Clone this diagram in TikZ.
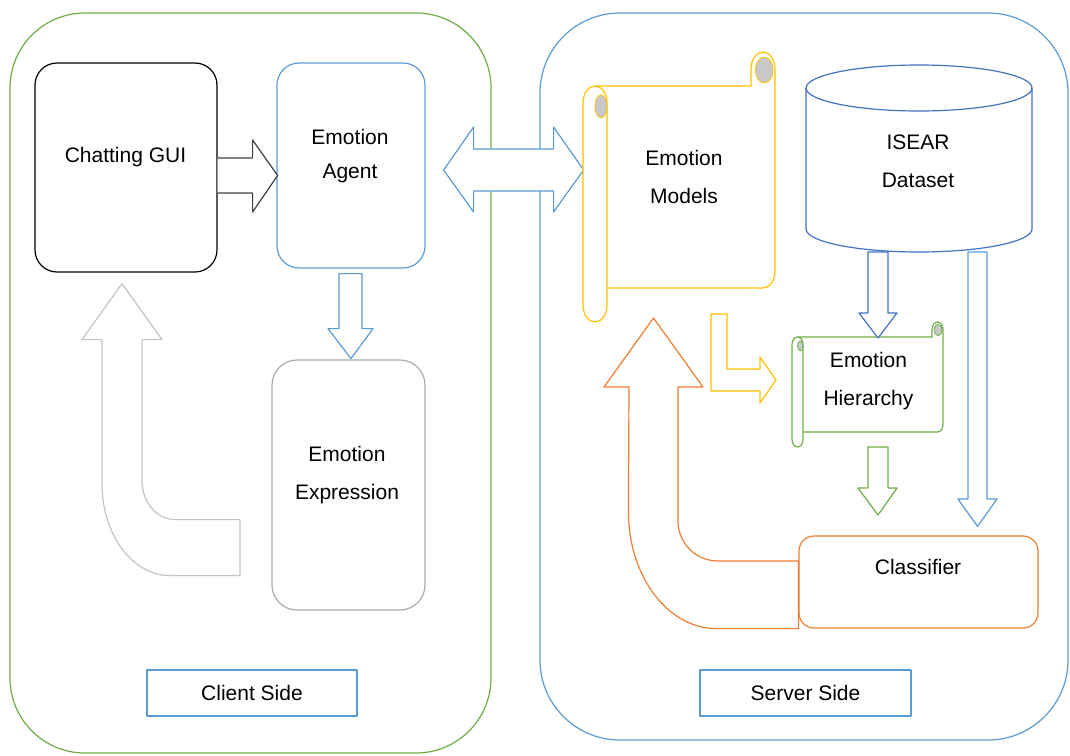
\documentclass[tikz,border=0pt]{standalone}
\usepackage{fontspec}
\setmainfont{Liberation Sans}
\usetikzlibrary{calc}

%Colors
\definecolor{clientgreen}{HTML}{70AD47}
\definecolor{serverblue}{HTML}{5B9BD5}
\definecolor{isearblue}{HTML}{4472C4}
\definecolor{modelyellow}{HTML}{FFC000}
\definecolor{classorange}{HTML}{ED7D31}
\definecolor{arrowblack}{HTML}{404040}
\definecolor{exprgray}{HTML}{ABABAB}
\definecolor{backgray}{HTML}{C4C4C4}
\definecolor{curlgray}{HTML}{C8C8C8}

% scroll: left, top, right, bottom, roll width, roll height, colour
\newcommand{\scrollshape}[7]{%
	\pgfmathsetmacro\scrx{#5/2}
	\pgfmathsetmacro\scry{#6/2}
	\pgfmathsetmacro\curlax{#5/4}
	\pgfmathsetmacro\curlay{#6/3}
	\pgfmathsetmacro\curlbx{0.37*#5}
	\pgfmathsetmacro\curlby{0.38*#6}
	%body with the top roll
	\draw[draw=#7,line width=1.2pt,fill=white] ({#1+\scrx},{#2+#6}) -- ({#3-#5},{#2+#6}) -- ({#3-#5},{#2+\scry})
		arc[start angle=180,end angle=0,x radius=\scrx pt,y radius=\scry pt]
		-- ({#3},{#4-#6-\scry}) arc[start angle=0,end angle=-90,x radius=\scrx pt,y radius=\scry pt]
		-- ({#1+#5},{#4-#6});
	%left roll
	\draw[draw=#7,line width=1.2pt,fill=white] ({#1+\scrx},{#2+#6})
		arc[start angle=90,end angle=180,x radius=\scrx pt,y radius=\scry pt]
		-- ({#1},{#4-\scry}) arc[start angle=180,end angle=360,x radius=\scrx pt,y radius=\scry pt]
		-- ({#1+#5},{#2+#6+\scry}) arc[start angle=0,end angle=90,x radius=\scrx pt,y radius=\scry pt] -- cycle;
	%curls
	\filldraw[draw=#7,line width=0.8pt,fill=curlgray] ({#1+0.75*#5},{#2+1.6*#6}) ellipse[x radius=\curlax pt,y radius=\curlay pt];
	\filldraw[draw=#7,line width=0.8pt,fill=curlgray] ({#3-0.45*#5},{#2+0.53*#6}) ellipse[x radius=\curlbx pt,y radius=\curlby pt];
}

\begin{document}
\begin{tikzpicture}
	[x=1pt,y=-1pt,line join=round,
	%Styles
	txt/.style={inner sep=0pt,font=\fontsize{21}{38}\selectfont,align=center},
	panel/.style={draw,line width=1.2pt,rounded corners=75pt,inner sep=0pt},
	box/.style={draw,line width=1.2pt,rounded corners=22pt,inner sep=0pt},
	tag/.style={draw=serverblue,line width=1.6pt,minimum width=210pt,minimum height=46pt,inner sep=0pt,font=\fontsize{21}{24}\selectfont},
	block/.style={line width=1.2pt,fill=white}
	]
	\useasboundingbox (0,0) rectangle (1070,755);

	%Client and server sides
	\node[panel,draw=clientgreen,minimum width=481pt,minimum height=740pt] (client) at (250.5,383) {};
	\node[panel,draw=serverblue,rounded corners=80pt,minimum width=528pt,minimum height=727pt] (server) at (804,376.5) {};
	\node[tag] (client tag) at (252,693) {Client Side};
	\node[tag,minimum width=211pt] (server tag) at (805.5,693) {Server Side};

	%Client boxes
	\node[box,draw=black,minimum width=182pt,minimum height=209pt] (gui) at (126,167.5) {};
	\node[txt] (gui text) at (125.5,157) {Chatting GUI};
	\node[box,draw=serverblue,minimum width=148pt,minimum height=205pt] (agent) at (351,165.5) {};
	\node[txt,font=\fontsize{21}{34}\selectfont] (agent text) at (350,156.5) {Emotion\\Agent};
	\node[box,draw=exprgray,rounded corners=25pt,minimum width=153pt,minimum height=250pt] (expr) at (348.5,485) {};
	\node[txt] (expr text) at (347,475) {Emotion\\Expression};

	%Client arrows
	\draw[block,draw=arrowblack] ($(gui.east)+(0,-9.5)$) -- ++(35,0) -- ++(0,-18) -- ++(25,35.5) -- ++(-25,36.5) -- ++(0,-19) -- ++(-35,0);
	\draw[block,draw=serverblue] ($(agent.south)+(-12,5)$) -- ++(0,55) -- ++(-11,0) -- ++(23,30) -- ++(22,-30) -- ++(-11,0) -- ++(0,-55) -- cycle;
	\draw[block,draw=backgray] ($(gui.south)+(-4,11)$) coordinate (back tip) -- ++(40,56) -- ++(-20,0) -- ++(0,141)
		arc[start angle=180,end angle=270,x radius=33pt,y radius=39pt] -- ++(65,0) -- ++(0,56) -- ++(-70,0)
		arc[start angle=270,end angle=180,x radius=68pt,y radius=92pt] -- ++(0,-144) -- ++(-20,0) -- cycle;

	%Link between the two sides
	\draw[block,draw=serverblue] ($(agent.east)+(18,4.5)$) -- ++(30,-43) -- ++(0,22) -- ++(80,0) -- ++(0,-22) -- ++(30,43)
		-- ++(-30,42) -- ++(0,-21) -- ++(-80,0) -- ++(0,21) -- cycle;

	%Emotion models
	\scrollshape{583}{52}{775}{322}{24}{34}{modelyellow}
	\node[txt] (models) at (684,177) {Emotion\\Models};

	%ISEAR dataset
	\draw[isearblue,line width=1.2pt,fill=white] (806,88) -- (806,229) arc[start angle=180,end angle=360,x radius=113pt,y radius=23pt] -- (1032,88);
	\draw[isearblue,line width=1.2pt] (919,88) ellipse[x radius=113pt,y radius=23pt];
	\node[txt] (dataset) at (918,161.5) {ISEAR\\Dataset};

	%Emotion hierarchy
	\scrollshape{792}{322}{943}{447}{11}{15}{clientgreen}
	\node[txt] (hierarchy) at (868.5,381.5) {Emotion\\Hierarchy};

	%Classifier
	\node[box,draw=classorange,rounded corners=15pt,minimum width=239pt,minimum height=92pt] (classifier) at (918.5,582) {};
	\node[txt] (classifier text) at (918,567) {Classifier};

	%Server arrows
	\draw[block,draw=isearblue] (868,252) -- (868,313) -- ++(-9,0) -- (878,338) -- (897,313) -- ++(-9,0) -- (888,252) -- cycle;
	\draw[block,draw=serverblue] (968,252) -- (968,499) -- ++(-10,0) -- ($(classifier.north)+(59,-9)$) -- (997,499) -- ++(-10,0) -- (987,252) -- cycle;
	\draw[block,draw=clientgreen] (868,447) -- (868,488) -- ++(-10,0) -- (878,515) -- (897,488) -- ++(-9,0) -- (888,447) -- cycle;
	\draw[block,draw=modelyellow] (711,314) -- ++(16,0) -- ++(0,55) -- ++(33,0) -- ++(0,-12) -- ++(16,23) -- ++(-16,23) -- ++(0,-12) -- ++(-49,0) -- cycle;
	\draw[block,draw=classorange] (classifier.south west) -- ++(-82,0)
		arc[start angle=270,end angle=180,x radius=88pt,y radius=117pt] -- (629,387) -- ++(-25,0) -- ++(49.5,-69)
		-- ++(49.5,69) -- ++(-25,0) -- ++(0,134) arc[start angle=180,end angle=270,x radius=40pt,y radius=40pt]
		-- (classifier.west |- 0,561) -- cycle;
\end{tikzpicture}
\end{document}
